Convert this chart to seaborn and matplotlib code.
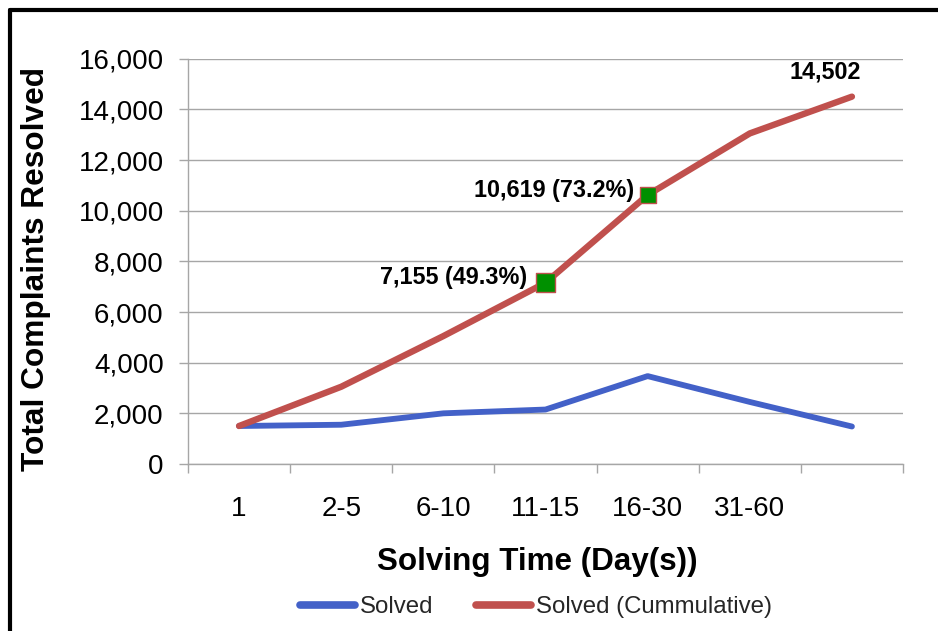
import matplotlib
matplotlib.use("Agg")
import matplotlib.pyplot as plt
from matplotlib.lines import Line2D
import seaborn as sns
import pandas as pd

# ---- data ----
categories = ["1", "2-5", "6-10", "11-15", "16-30", "31-60", ">60"]
tick_labels = ["1", "2-5", "6-10", "11-15", "16-30", "31-60", ""]
solved = [1500, 1550, 2000, 2150, 3470, 2450, 1480]
cumulative = [1500, 3050, 5050, 7155, 10619, 13050, 14502]
highlight_idx = [3, 4]
y_ticks = [0, 2000, 4000, 6000, 8000, 10000, 12000, 14000, 16000]

BLUE = "#4361C8"
RED = "#C0504D"
GREEN = "#009000"
GRID = "#A6A6A6"
FONT = "Liberation Sans"

sns.set_theme(style="white")
plt.rcParams["font.family"] = [FONT, "DejaVu Sans"]

pos = list(range(len(categories)))
df = pd.DataFrame({"pos": pos, "cat": categories,
                   "Solved": solved, "Solved (Cummulative)": cumulative})

fig = plt.figure(figsize=(9.38, 6.31), dpi=100)
ax = fig.add_axes([188 / 938, 1 - 464 / 631, (903 - 188) / 938, (464 - 58.7) / 631])

sns.lineplot(data=df, x="pos", y="Solved", color=BLUE, linewidth=4.2,
             ax=ax, label="Solved", solid_capstyle="round", sort=False)
sns.lineplot(data=df, x="pos", y="Solved (Cummulative)", color=RED, linewidth=4.6,
             ax=ax, label="Solved (Cummulative)", solid_capstyle="round", sort=False)

hl = df.iloc[highlight_idx]
ax.scatter(hl["pos"], hl["Solved (Cummulative)"], marker="s", s=[185, 135],
           color=GREEN, edgecolor=RED, linewidth=1.0, zorder=5)

total = cumulative[-1]
offsets = {3: (-13, 4), 4: (-10, 3)}
for i in highlight_idx:
    v = cumulative[i]
    ax.annotate(f"{v:,} ({v / total * 100:.1f}%)", xy=(pos[i], v),
                xytext=offsets[i], textcoords="offset points",
                ha="right", va="center", fontsize=16.8, fontweight="bold",
                color="black")
ax.annotate(f"{cumulative[-1]:,}", xy=(pos[-1], cumulative[-1]),
            xytext=(-19, 18), textcoords="offset points",
            ha="center", va="center", fontsize=16.8, fontweight="bold",
            color="black")

# axes styling
ax.set_xlim(-0.5, len(categories) - 0.5)
ax.set_ylim(0, 16000)
ax.set_yticks(y_ticks)
ax.set_yticklabels([f"{t:,}" for t in y_ticks])
ax.set_xticks(pos)
ax.set_xticklabels(tick_labels)
ax.set_xticks([p - 0.5 for p in pos] + [pos[-1] + 0.5], minor=True)
ax.tick_params(axis="x", which="major", length=0, pad=23, labelsize=20, colors="black")
ax.tick_params(axis="x", which="minor", length=6.5, width=1, color=GRID, direction="out",
               bottom=True)
ax.tick_params(axis="y", which="major", length=6.5, width=1, color=GRID, pad=11,
               labelsize=20, left=True, direction="out")
for lab in ax.get_xticklabels() + ax.get_yticklabels():
    lab.set_color("black")

ax.grid(axis="y", color=GRID, linewidth=1.0)
ax.grid(axis="x", visible=False)
ax.set_axisbelow(True)
for s in ["top", "right"]:
    ax.spines[s].set_visible(False)
for s in ["left", "bottom"]:
    ax.spines[s].set_color(GRID)
    ax.spines[s].set_linewidth(1.0)

ax.set_xlabel("Solving Time (Day(s))", fontsize=22.6, fontweight="bold", color="black")
ax.xaxis.set_label_coords((537.5 - 188) / 715, -(561.7 - 464) / 405.3)
ax.xaxis.label.set_va("center")
ax.set_ylabel("Total Complaints Resolved", fontsize=22.8, fontweight="bold", color="black")
ax.yaxis.set_label_coords(-(188 - 36) / 715, (464 - 269) / 405.3)
ax.yaxis.label.set_va("center")

ax.get_legend().remove()
handles = [Line2D([0], [0], color=BLUE, linewidth=5.5, solid_capstyle="round"),
           Line2D([0], [0], color=RED, linewidth=5.5, solid_capstyle="round")]
fig.legend(handles, ["Solved", "Solved (Cummulative)"], loc="center",
           bbox_to_anchor=(536 / 938, 1 - 607 / 631), ncol=2, frameon=False,
           fontsize=17.3, handlelength=2.3, handletextpad=0.2, columnspacing=1.75)

# outer border (left and top visible)
bx = 9.5 / 938
by = 1 - 10.3 / 631
fig.add_artist(Line2D([bx, bx], [0, by], transform=fig.transFigure, color="black", linewidth=3))
fig.add_artist(Line2D([bx, 1.0], [by, by], transform=fig.transFigure, color="black", linewidth=3))

fig.savefig("out.png", dpi=100, facecolor="white")
